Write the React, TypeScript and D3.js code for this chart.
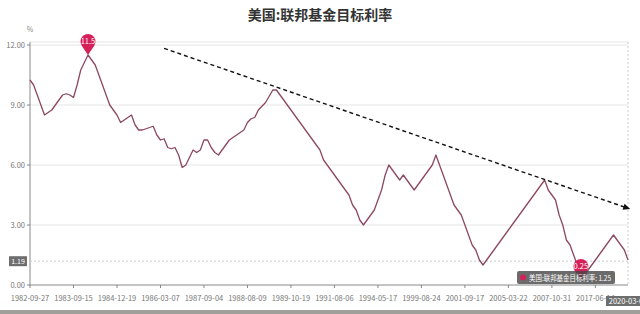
import React from "react";
import * as d3 from "d3";

const TITLE = "美国:联邦基金目标利率";
const SERIES_NAME = "美国:联邦基金目标利率";

// one value per target-rate change (category axis)
const rateValues: number[] = [
  10.25, 10.0, 9.5, 9.0, 8.5, 8.625, 8.75, 9.0, 9.25, 9.5,
  9.5625, 9.5, 9.375, 10.0, 10.75, 11.125, 11.5, 11.25, 11.0, 10.5,
  10.0, 9.5, 9.0, 8.75, 8.5, 8.125, 8.25, 8.375, 8.5, 8.0,
  7.75, 7.75, 7.8125, 7.875, 7.9375, 7.5, 7.25, 7.3125, 6.875, 6.8125,
  6.875, 6.5, 5.875, 6.0, 6.375, 6.75, 6.625, 6.75, 7.25, 7.25,
  6.875, 6.625, 6.5, 6.75, 7.0, 7.25, 7.375, 7.5, 7.625, 7.75,
  8.125, 8.3125, 8.375, 8.75, 8.9375, 9.125, 9.4375, 9.75, 9.75, 9.5,
  9.25, 9.0, 8.75, 8.5, 8.25, 8.0, 7.75, 7.5, 7.25, 7.0,
  6.75, 6.25, 6.0, 5.75, 5.5, 5.25, 5.0, 4.75, 4.5, 4.0,
  3.75, 3.25, 3.0, 3.25, 3.5, 3.75, 4.25, 4.75, 5.5, 6.0,
  5.75, 5.5, 5.25, 5.5, 5.25, 5.0, 4.75, 5.0, 5.25, 5.5,
  5.75, 6.0, 6.5, 6.0, 5.5, 5.0, 4.5, 4.0, 3.75, 3.5,
  3.0, 2.5, 2.0, 1.75, 1.25, 1.0, 1.25, 1.5, 1.75, 2.0,
  2.25, 2.5, 2.75, 3.0, 3.25, 3.5, 3.75, 4.0, 4.25, 4.5,
  4.75, 5.0, 5.25, 4.75, 4.5, 4.25, 3.5, 3.0, 2.25, 2.0,
  1.5, 1.0, 0.25, 0.5, 0.75, 1.0, 1.25, 1.5, 1.75, 2.0,
  2.25, 2.5, 2.25, 2.0, 1.75, 1.25,
];

const tickIndices: number[] = [0, 12, 24, 36, 48, 60, 72, 84, 96, 108, 120, 132, 144, 156];
const tickLabels: string[] = [
  "1982-09-27", "1983-09-15", "1984-12-19", "1986-03-07", "1987-09-04",
  "1988-08-09", "1989-10-19", "1991-08-06", "1994-05-17", "1999-08-24",
  "2001-09-17", "2005-03-22", "2007-10-31", "2017-06-14",
];
const lastLabel = "2020-03-03";

const yTicks: number[] = [0, 3, 6, 9, 12];
const yAxisTop = 12.15;

// trend annotation (category index, value)
const trendStart = { i: 37, v: 11.83 };
const trendEnd = { i: 165.6, v: 3.8 };

const pointerValue = 1.19;

const FONT = "'Noto Sans CJK SC', 'Noto Sans', sans-serif";
const LINE_COLOR = "#8c4862";
const PIN_COLOR = "#d6205a";

function pinPath(tx: number, ty: number, r: number, d: number) {
  const cy = ty - d;
  const th = Math.acos(r / d);
  const sx = r * Math.sin(th);
  const sy = r * Math.cos(th);
  return `M${tx},${ty} L${tx - sx},${cy + sy} A${r},${r} 0 1 1 ${tx + sx},${cy + sy} Z`;
}

export default function App() {
  const W = 640;
  const H = 314;
  const x0 = 30;
  const x1 = 628;
  const n = rateValues.length;
  const x = d3.scaleLinear().domain([0, n - 1]).range([x0, x1]);
  const y = d3.scaleLinear().domain([0, 12]).range([285, 45]);

  const line = d3
    .line<number>()
    .x((_, i) => x(i))
    .y((v) => y(v));

  const maxV = d3.max(rateValues)!;
  const minV = d3.min(rateValues)!;
  const maxI = rateValues.indexOf(maxV);
  const minI = rateValues.indexOf(minV);
  const lastI = n - 1;
  const lastV = rateValues[lastI];

  const tsx = x(trendStart.i), tsy = y(trendStart.v);
  const tex = x(trendEnd.i), tey = y(trendEnd.v);
  const ang = Math.atan2(tey - tsy, tex - tsx);
  const ah = 7, aw = 3.2;
  const arrow = `M${tex},${tey} L${tex - ah * Math.cos(ang) + aw * Math.sin(ang)},${tey - ah * Math.sin(ang) - aw * Math.cos(ang)} L${tex - ah * Math.cos(ang) - aw * Math.sin(ang)},${tey - ah * Math.sin(ang) + aw * Math.cos(ang)} Z`;
  const shaftEndX = tex - (ah - 1) * Math.cos(ang);
  const shaftEndY = tey - (ah - 1) * Math.sin(ang);

  const pinR = 7.5;
  const pinD = 13.5;

  const py = y(pointerValue);
  const baseY = y(0);
  const topY = y(yAxisTop);

  const tipW = 98;
  const tipX = x(lastI) - 111;
  const tipY = 271;

  return (
    <svg
      width={W}
      height={H}
      style={{ position: "absolute", left: 0, top: 0, background: "#fff" }}
      fontFamily={FONT}
    >
      <rect x={0} y={0} width={W} height={H} fill="#fff" />
      <text x={320} y={20} textAnchor="middle" fontSize={14} fontWeight="bold" fill="#333">
        {TITLE}
      </text>
      <text x={30} y={32} textAnchor="middle" fontSize={7} fill="#888">%</text>

      {/* grid */}
      <line x1={x0} x2={x1} y1={topY} y2={topY} stroke="#e4e4e4" strokeWidth={1} />
      {yTicks.slice(1).map((t) => (
        <line key={t} x1={x0} x2={x1} y1={y(t)} y2={y(t)} stroke="#e6e6e6" strokeWidth={1} />
      ))}

      {/* y axis */}
      <line x1={x0} x2={x0} y1={topY} y2={baseY} stroke="#888" strokeWidth={1} />
      {yTicks.map((t) => (
        <g key={t}>
          <line x1={x0 - 3} x2={x0} y1={y(t)} y2={y(t)} stroke="#888" />
          <text x={x0 - 5} y={y(t) + 3} textAnchor="end" fontSize={7.5} fill="#777">
            {t.toFixed(2)}
          </text>
        </g>
      ))}

      {/* x axis */}
      <line x1={x0} x2={x1} y1={baseY} y2={baseY} stroke="#888" strokeWidth={1} />
      {tickIndices.map((ti, k) => (
        <g key={ti}>
          <line x1={x(ti)} x2={x(ti)} y1={baseY} y2={baseY + 3} stroke="#888" />
          <text x={x(ti)} y={baseY + 16} textAnchor="middle" fontSize={7.5} fill="#777">
            {tickLabels[k]}
          </text>
        </g>
      ))}

      {/* axis pointer lines */}
      <line x1={x0} x2={x1} y1={py} y2={py} stroke="#ccc" strokeDasharray="2,2" />
      <line x1={x(lastI)} x2={x(lastI)} y1={topY} y2={baseY} stroke="#ccc" strokeDasharray="2,2" />

      {/* series line */}
      <path d={line(rateValues) || ""} fill="none" stroke={LINE_COLOR} strokeWidth={1.3} strokeLinejoin="round" />

      {/* trend arrow */}
      <line x1={tsx} y1={tsy} x2={shaftEndX} y2={shaftEndY} stroke="#111" strokeWidth={1.4} strokeDasharray="4,3" />
      <path d={arrow} fill="#111" />

      {/* mark points */}
      <path d={pinPath(x(maxI), y(maxV), pinR, pinD)} fill={PIN_COLOR} />
      <text x={x(maxI)} y={y(maxV) - pinD + 2.8} textAnchor="middle" fontSize={7.5} fill="#fff">
        {String(maxV)}
      </text>
      <path d={pinPath(x(minI), y(minV), pinR, pinD)} fill={PIN_COLOR} />
      <text x={x(minI)} y={y(minV) - pinD + 2.8} textAnchor="middle" fontSize={7.5} fill="#fff">
        {String(minV)}
      </text>

      {/* tooltip */}
      <rect x={tipX} y={tipY} width={tipW} height={13} rx={2} fill="rgba(70,70,70,0.8)" />
      <circle cx={tipX + 6} cy={tipY + 6.5} r={3} fill={PIN_COLOR} />
      <text
        x={tipX + 12}
        y={tipY + 9.5}
        fontSize={7.5}
        fill="#fff"
        textLength={tipW - 16}
        lengthAdjust="spacingAndGlyphs"
      >
        {`${SERIES_NAME}: ${lastV.toFixed(2)}`}
      </text>

      {/* y pointer label */}
      <rect x={9} y={py - 5} width={18} height={10} fill="#6e6e6e" />
      <text x={18} y={py + 3} textAnchor="middle" fontSize={7} fill="#fff">
        {pointerValue.toFixed(2)}
      </text>

      {/* x pointer label */}
      <rect x={x(lastI) - 22} y={baseY + 11} width={46} height={10} fill="#6e6e6e" />
      <text x={x(lastI)} y={baseY + 19} textAnchor="middle" fontSize={7.5} fill="#fff">
        {lastLabel}
      </text>

      {/* bottom strip */}
      <rect x={0} y={310} width={W} height={4} fill="#a19f99" />
    </svg>
  );
}
